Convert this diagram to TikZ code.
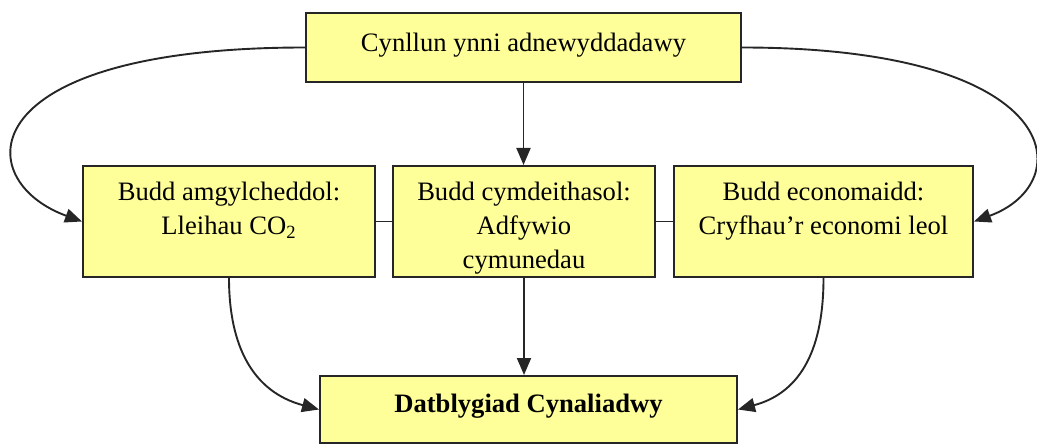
\documentclass[tikz,border=0pt]{standalone}
\usepackage{fontspec}
\setmainfont{Liberation Serif}
\usepackage{tikz}
\usetikzlibrary{arrows.meta,positioning}
\definecolor{boxyellow}{RGB}{255,255,153}

\begin{document}
\begin{tikzpicture}[x=0.5pt,y=0.5pt,
  box/.style={draw=black!85, fill=boxyellow, line width=1pt, inner sep=0pt},
  boxtext/.style={font=\fontsize{13.3}{16.8}\selectfont, align=center, inner sep=0pt},
  arr/.style={-{Triangle[length=8.5pt,width=7pt]}, line width=0.95pt, black!85}]
  \useasboundingbox (0,0) rectangle (1037,445);

  % plan at the top
  \node[box, minimum width=217.5pt, minimum height=34.5pt] (plan) at (523.5,397.5) {};
  \node[boxtext, below=10.5pt of plan.north] (plantxt) {Cynllun ynni adnewyddadawy};

  % the three benefits
  \node[box, minimum width=146pt, minimum height=55.5pt] (amg) at (229,223.5) {};
  \node[boxtext, below=8.5pt of amg.north] (amgtxt) {Budd amgylcheddol:\\ Lleihau CO\textsubscript{2}};

  \node[box, minimum width=131pt, minimum height=55.5pt] (cym) at (524,223.5) {};
  \node[boxtext, below=8.5pt of cym.north] (cymtxt) {Budd cymdeithasol:\\ Adfywio\\ cymunedau};

  \node[box, minimum width=149.5pt, minimum height=55.5pt] (econ) at (823.5,223.5) {};
  \node[boxtext, below=8.5pt of econ.north] (econtxt) {Budd economaidd:\\ Cryfhau’r economi leol};

  % outcome
  \node[box, minimum width=208.5pt, minimum height=33.5pt] (dat) at (528.5,35.5) {};
  \node[boxtext, below=9.5pt of dat.north] (dattxt) {\textbf{Datblygiad Cynaliadwy}};

  % connectors
  \draw[arr] (plan.south) -- (plan.south |- cym.north);
  \draw[arr] (cym.south) -- (cym.south |- dat.north);
  \draw[line width=0.95pt, black!85] (amg.east) -- (cym.west);
  \draw[line width=0.95pt, black!85] (cym.east) -- (econ.west);

  \draw[arr] (plan.west) .. controls +(180:336) and +(160:120) .. (amg.west);
  \draw[arr] (plan.east) .. controls +(0:325) and +(20:112) .. (econ.east);

  \draw[arr] (amg.south) to[out=-90,in=165,looseness=1.1] (dat.west);
  \draw[arr] (econ.south) to[out=-90,in=15,looseness=1.1] (dat.east);
\end{tikzpicture}
\end{document}
